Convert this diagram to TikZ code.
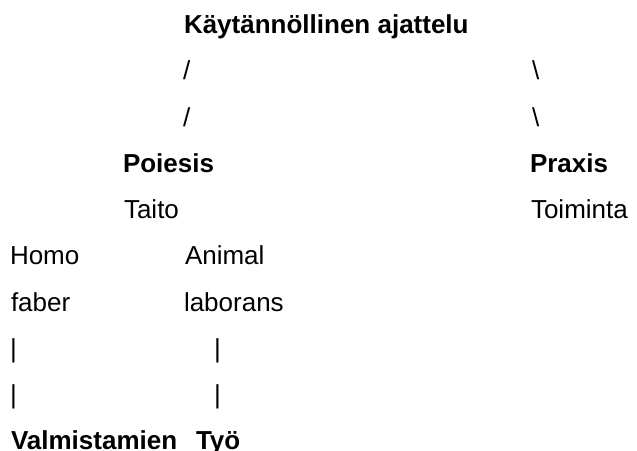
\documentclass[tikz,border=0pt]{standalone}
\usepackage{fontspec}
\setmainfont{Liberation Sans}
\begin{document}
\begin{tikzpicture}[x=1pt,y=-1pt,
  txt/.style={anchor=base west,inner sep=0pt,outer sep=0pt,
    font=\fontsize{26}{31}\selectfont},
  hd/.style={txt,font=\fontsize{26}{31}\selectfont\bfseries}]
\useasboundingbox (0,0) rectangle (637,450);
% top concept and its two branches
\node[hd]  (top)  at (184,33)  {Käytännöllinen ajattelu};
\node[txt] (l1)   at (183,79)  {/};
\node[txt] (r1)   at (532,79)  {\textbackslash};
\node[txt] (l2)   at (183,126) {/};
\node[txt] (r2)   at (532,126) {\textbackslash};
\node[hd]  (poi)  at (123,172) {Poiesis};
\node[hd]  (pra)  at (530,172) {Praxis};
\node[txt] (tai)  at (124,218) {Taito};
\node[txt] (toi)  at (531,218) {Toiminta};
% the two sides of poiesis
\node[txt] (homo) at (10,264)  {Homo};
\node[txt] (ani)  at (185,264) {Animal};
\node[txt] (fab)  at (11,311)  {faber};
\node[txt] (lab)  at (184,311) {laborans};
\node[txt] (b1)   at (10,357)  {|};
\node[txt] (b2)   at (214,357) {|};
\node[txt] (b3)   at (10,403)  {|};
\node[txt] (b4)   at (214,403) {|};
\node[hd]  (val)  at (11,449)  {Valmistamien};
\node[hd]  (tyo)  at (196,449) {Työ};
\end{tikzpicture}
\end{document}
